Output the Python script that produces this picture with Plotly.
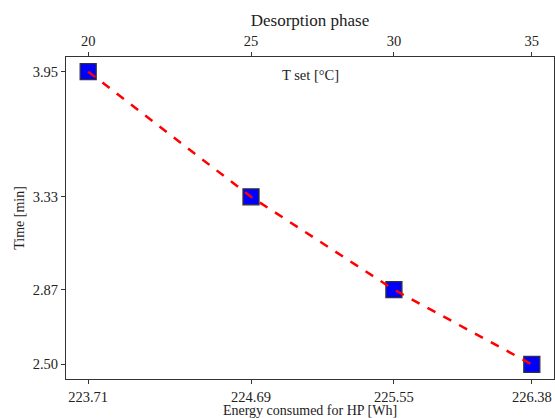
import plotly.graph_objects as go

energy_wh = [223.71, 224.69, 225.55, 226.38]
t_set_c = [20, 25, 30, 35]
time_min = [3.95, 3.33, 2.87, 2.50]

energy_labels = [f"{v:.2f}" for v in energy_wh]
time_labels = [f"{v:.2f}" for v in time_min]
tset_labels = [str(v) for v in t_set_c]

xpad = (max(energy_wh) - min(energy_wh)) * 0.05
ypad = (max(time_min) - min(time_min)) * 0.05
xr = [min(energy_wh) - xpad, max(energy_wh) + xpad]
yr = [min(time_min) - ypad, max(time_min) + ypad]

font = "Liberation Serif, Times New Roman, serif"
axcol = "#333333"

fig = go.Figure()
fig.add_trace(go.Scatter(
    x=energy_wh, y=time_min, mode="markers",
    marker=dict(symbol="square", size=16, color="#0000ff",
                line=dict(color="#333333", width=1.3)),
    showlegend=False, hoverinfo="skip"))
fig.add_trace(go.Scatter(
    x=energy_wh, y=time_min, mode="lines",
    line=dict(color="#ff0000", width=2.5, dash="dash"),
    showlegend=False))
# invisible trace for top axis
fig.add_trace(go.Scatter(
    x=energy_wh, y=time_min, xaxis="x2", mode="markers",
    marker=dict(opacity=0), showlegend=False, hoverinfo="skip"))

fig.update_layout(
    width=555, height=418,
    margin=dict(l=66, r=1, t=57, b=39, autoexpand=False),
    paper_bgcolor="white", plot_bgcolor="white",
    font=dict(family=font, size=14.5, color="#222222"),
    xaxis=dict(range=xr, tickvals=energy_wh, ticktext=energy_labels,
               automargin=False,
               showgrid=False, zeroline=False, showline=True, mirror=True,
               linecolor=axcol, linewidth=1.2, ticks="outside", ticklen=4,
               tickcolor=axcol,
               title=dict(text="Energy consumed for HP [Wh]", standoff=0,
                          font=dict(size=14))),
    xaxis2=dict(range=xr, tickvals=energy_wh, ticktext=tset_labels,
                automargin=False,
                overlaying="x", side="top", showgrid=False, zeroline=False,
                showline=True, linecolor=axcol, linewidth=1.2,
                ticks="outside", ticklen=4, tickcolor=axcol,
                title=dict(text="Desorption phase", standoff=2,
                           font=dict(size=17))),
    yaxis=dict(range=yr, tickvals=time_min, ticktext=time_labels,
               automargin=False,
               showgrid=False, zeroline=False, showline=True, mirror=True,
               linecolor=axcol, linewidth=1.2, ticks="outside", ticklen=4,
               tickcolor=axcol,
               title=dict(text="Time [min]", standoff=4, font=dict(size=14))),
    annotations=[dict(text="T set [°C]", xref="paper", yref="paper",
                      x=0.5, y=0.943, xanchor="center", yanchor="middle",
                      showarrow=False,
                      font=dict(size=14.5, family=font))],
)

fig.write_html("out.html")
